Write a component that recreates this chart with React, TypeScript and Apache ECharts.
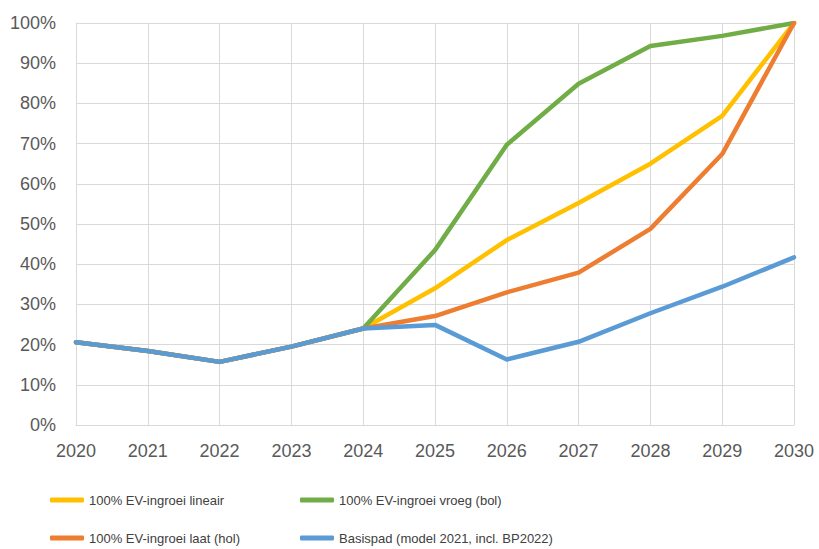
import React, { useEffect, useRef } from "react";
import * as echarts from "echarts";

const years = ["2020", "2021", "2022", "2023", "2024", "2025", "2026", "2027", "2028", "2029", "2030"];
const names = [
  "100% EV-ingroei lineair",
  "100% EV-ingroei vroeg (bol)",
  "100% EV-ingroei laat (hol)",
  "Basispad (model 2021, incl. BP2022)",
];
const colors = ["#FFC000", "#70AD47", "#ED7D31", "#5B9BD5"];
const lineair = [20.6, 18.4, 15.7, 19.5, 24.0, 34.0, 46.0, 55.2, 65.0, 76.9, 100];
const vroeg = [20.6, 18.4, 15.7, 19.5, 24.0, 43.5, 69.7, 84.9, 94.3, 96.8, 100];
const laat = [20.6, 18.4, 15.7, 19.5, 24.0, 27.1, 33.0, 37.9, 48.8, 67.4, 100];
const basispad = [20.6, 18.4, 15.7, 19.5, 24.0, 24.9, 16.3, 20.7, 27.8, 34.4, 41.7];
const seriesData = [lineair, vroeg, laat, basispad];

const legendPos = [
  { left: 50, top: 492 },
  { left: 300, top: 492 },
  { left: 50, top: 530 },
  { left: 300, top: 530 },
];

export default function App() {
  const ref = useRef<HTMLDivElement>(null);
  useEffect(() => {
    if (!ref.current) return;
    const chart = echarts.init(ref.current, undefined, { renderer: "svg" });
    const axisFont = { fontFamily: "Liberation Sans, Arial, sans-serif", fontSize: 18, color: "#595959" };
    chart.setOption({
      animation: false,
      backgroundColor: "#ffffff",
      grid: { left: 76, right: 25, top: 23, bottom: 124, containLabel: false },
      xAxis: {
        type: "category",
        data: years,
        boundaryGap: false,
        axisLine: { show: true, lineStyle: { color: "#d9d9d9", width: 1 } },
        axisTick: { show: false },
        splitLine: { show: true, lineStyle: { color: "#d9d9d9", width: 1 } },
        axisLabel: { ...axisFont, margin: 17, interval: 0 },
      },
      yAxis: {
        type: "value",
        min: 0,
        max: 100,
        interval: 10,
        axisLine: { show: true, lineStyle: { color: "#d9d9d9", width: 1 } },
        axisTick: { show: false },
        splitLine: { show: true, lineStyle: { color: "#d9d9d9", width: 1 } },
        axisLabel: { ...axisFont, margin: 20, formatter: "{value}%" },
      },
      legend: names.map((n, i) => ({
        data: [n],
        left: legendPos[i].left,
        top: legendPos[i].top,
        padding: 0,
        icon: "roundRect",
        itemWidth: 34,
        itemHeight: 5,
        itemGap: 0,
        textStyle: {
          fontFamily: "Liberation Sans, Arial, sans-serif",
          fontSize: 13,
          color: "#404040",
          lineHeight: 16,
        },
        selectedMode: false,
      })),
      series: names.map((n, i) => ({
        name: n,
        type: "line",
        data: seriesData[i],
        symbol: "none",
        color: colors[i],
        lineStyle: { color: colors[i], width: 4.5, join: "round", cap: "round" },
        z: 2 + i,
      })),
    });
    return () => chart.dispose();
  }, []);
  return <div ref={ref} style={{ width: 819, height: 549, position: "absolute", left: 0, top: 0 }} />;
}
